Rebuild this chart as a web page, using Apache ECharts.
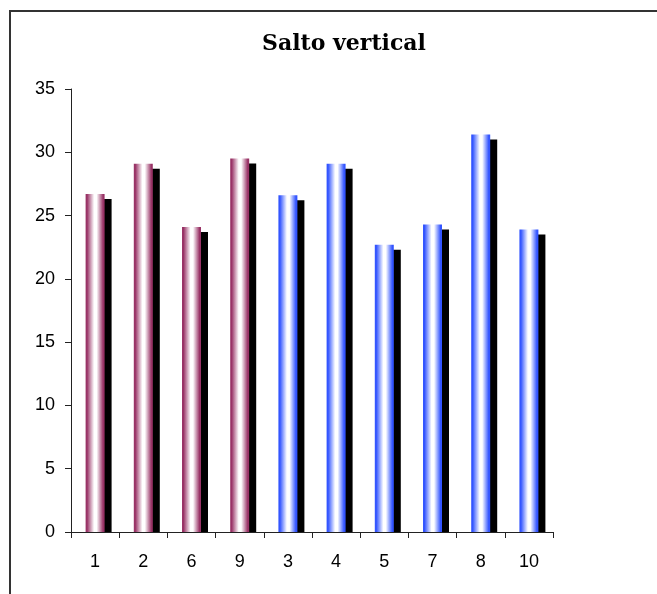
<!DOCTYPE html>
<html>
<head>
<meta charset="utf-8">
<title>Salto vertical</title>
<script src="https://cdn.jsdelivr.net/npm/echarts@6/dist/echarts.min.js"></script>
<style>
  html, body { margin: 0; padding: 0; background: #fff; }
  #chart { width: 657px; height: 594px; }
</style>
</head>
<body>
<div id="chart"></div>
<script>
// Jump heights per subject (cm)
const categories = ['1', '2', '6', '9', '3', '4', '5', '7', '8', '10'];
const values = [26.7, 29.1, 24.1, 29.5, 26.6, 29.1, 22.7, 24.3, 31.4, 23.9];
// Group of each subject: 0 = first group (maroon), 1 = second group (blue)
const groups = [0, 0, 0, 0, 1, 1, 1, 1, 1, 1];
const yTicks = [0, 5, 10, 15, 20, 25, 30, 35];

function cylinder(edge) {
  return new echarts.graphic.LinearGradient(0, 0, 1, 0, [
    { offset: 0, color: edge },
    { offset: 0.08, color: edge },
    { offset: 0.45, color: '#ffffff' },
    { offset: 0.58, color: '#ffffff' },
    { offset: 0.92, color: edge },
    { offset: 1, color: edge }
  ]);
}
const groupColors = ['#993366', '#3355ff'];

const W = 657, H = 594;
const gridBox = { left: 71, right: 104, top: 89, bottom: 62 };

const chart = echarts.init(document.getElementById('chart'), null, { renderer: 'canvas' });

chart.setOption({
  animation: false,
  backgroundColor: '#ffffff',
  title: {
    text: 'Salto vertical',
    left: 339,
    top: 28,
    textAlign: 'center',
    textStyle: {
      fontFamily: 'DejaVu Serif',
      fontWeight: 'bold',
      fontSize: 22,
      color: '#000'
    }
  },
  graphic: [
    {
      // outer frame
      type: 'rect',
      shape: { x: 10, y: 11, width: 800, height: 800 },
      style: { fill: 'none', stroke: '#333', lineWidth: 2 },
      silent: true,
      z: 1
    },
    {
      // keeps the drop shadows from spilling below the baseline
      type: 'rect',
      shape: { x: gridBox.left + 1, y: H - gridBox.bottom + 0.5, width: W - gridBox.left - gridBox.right + 20, height: 12 },
      style: { fill: '#ffffff' },
      silent: true,
      z: 3
    }
  ],
  grid: { left: gridBox.left, right: gridBox.right, top: gridBox.top, bottom: gridBox.bottom, containLabel: false },
  xAxis: {
    type: 'category',
    data: categories,
    boundaryGap: true,
    z: 5,
    axisLine: { show: true, lineStyle: { color: '#222', width: 1 } },
    axisTick: { show: true, alignWithLabel: false, length: 6, lineStyle: { color: '#222' } },
    axisLabel: {
      margin: 21,
      fontFamily: 'Liberation Sans',
      fontSize: 18,
      color: '#000'
    },
    splitLine: { show: false }
  },
  yAxis: {
    type: 'value',
    min: yTicks[0],
    max: yTicks[yTicks.length - 1],
    interval: 5,
    z: 5,
    axisLine: { show: true, lineStyle: { color: '#222', width: 1 } },
    axisTick: { show: true, length: 6, lineStyle: { color: '#222' } },
    axisLabel: {
      margin: 16,
      fontFamily: 'Liberation Sans',
      fontSize: 18,
      color: '#000'
    },
    splitLine: { show: false }
  },
  series: [{
    type: 'bar',
    barWidth: 19,
    z: 2,
    data: values.map((v, i) => ({
      value: v,
      itemStyle: {
        color: cylinder(groupColors[groups[i]]),
        shadowColor: '#000',
        shadowBlur: 0,
        shadowOffsetX: 7,
        shadowOffsetY: 5
      }
    }))
  }]
});
</script>
</body>
</html>
